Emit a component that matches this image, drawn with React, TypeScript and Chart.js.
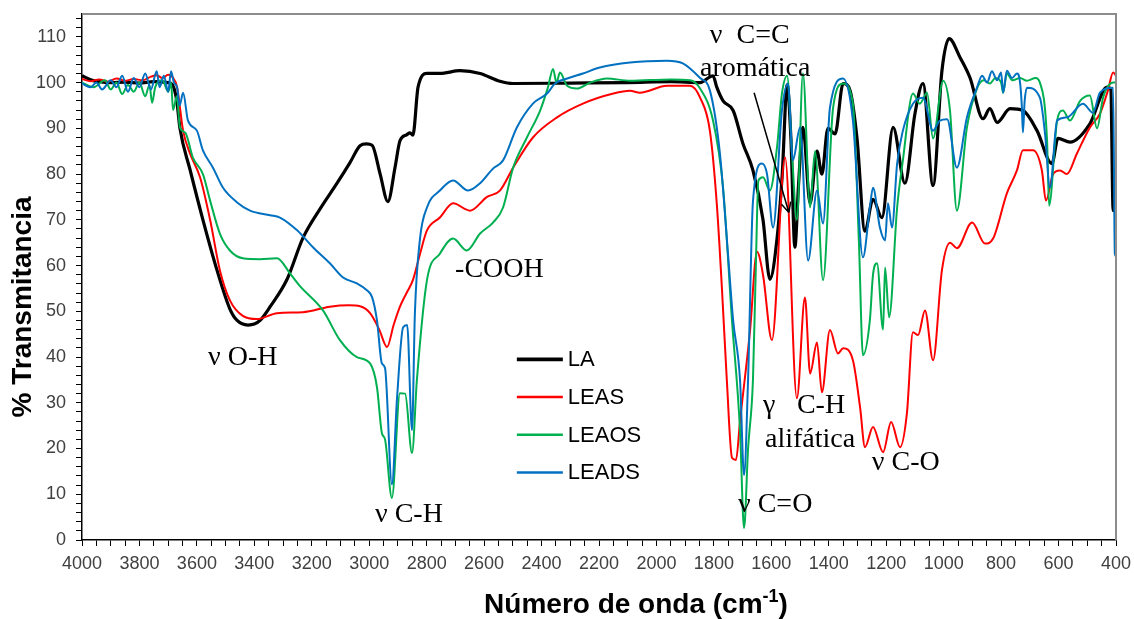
import React, { useEffect, useRef } from 'react';
import { Chart, registerables } from 'chart.js';

Chart.register(...registerables);

// ---------- data (wavenumber cm-1, % transmittance) ----------
const LA: [number, number][] = [
  [4000, 101.5], [3970, 100.6], [3940, 100.2], [3900, 100], [3850, 100.1], [3800, 99.9], [3750, 100.2], [3700, 100],
  [3685, 99.5], [3670, 96], [3659, 90], [3624, 81], [3579, 70], [3530, 59], [3485, 50.5], [3460, 48], [3422, 47],
  [3400, 47.2], [3380, 48], [3345, 51], [3286, 57], [3231, 66], [3170, 72.5], [3112, 78], [3067, 82.5], [3032, 86.2],
  [3010, 86.6], [2990, 86.3], [2962, 80], [2935, 74], [2910, 81.5], [2893, 87.3], [2870, 88.6], [2858, 89], [2848, 88.5],
  [2830, 99], [2799, 102], [2754, 102], [2684, 102.6], [2614, 102], [2545, 100.3], [2499, 99.8], [2300, 99.9],
  [2100, 100], [1950, 100.2], [1848, 100], [1815, 101.2], [1803, 101.5], [1790, 99], [1768, 96], [1733, 93.9],
  [1699, 86.7], [1664, 80.8], [1629, 70], [1605, 57], [1580, 66], [1562, 80], [1545, 99.5], [1532, 88], [1518, 64],
  [1505, 78], [1490, 90.2], [1465, 73.6], [1441, 85], [1424, 80], [1403, 90], [1378, 88.8], [1350, 99.8], [1326, 98.3],
  [1302, 88], [1274, 67.5], [1246, 74.5], [1215, 70.5], [1176, 90.2], [1135, 78], [1100, 93.2], [1072, 99.8],
  [1037, 77.5], [1006, 102.6], [981, 109.6], [943, 105.5], [908, 101], [863, 92.1], [839, 94.3], [814, 91.3],
  [769, 94.3], [724, 93.9], [675, 89.5], [623, 82.3], [602, 87.8], [560, 87], [491, 91], [431, 99], [418, 98.5],
  [410, 72], [400, 72],
];

const LEAS: [number, number][] = [
  [4000, 100.8], [3970, 100.3], [3940, 100.7], [3910, 100.2], [3880, 100.9], [3850, 100.4], [3820, 100.8], [3790, 100.5],
  [3760, 101.3], [3740, 101.6], [3720, 101], [3700, 101.7], [3685, 101.2], [3669, 99], [3648, 89.5], [3624, 84.5],
  [3589, 79.3], [3554, 70], [3520, 59], [3485, 52.4], [3440, 49], [3391, 48.3], [3321, 49.6], [3231, 49.8], [3137, 51],
  [3070, 51.3], [3032, 51.1], [2997, 49.6], [2965, 46], [2938, 42.2], [2915, 47], [2893, 51], [2870, 54], [2848, 56.8],
  [2823, 62.6], [2799, 67.7], [2754, 70.5], [2708, 73.6], [2649, 72], [2590, 75], [2545, 76.4], [2499, 81.4],
  [2430, 88], [2346, 92.4], [2256, 95.4], [2150, 97.6], [2092, 98.2], [2058, 97.8], [1963, 99.3], [1883, 99.3],
  [1848, 96.7], [1814, 89.5], [1790, 73.6], [1772, 55], [1755, 35], [1737, 18], [1723, 17.5], [1709, 26], [1674, 45.9],
  [1650, 63], [1629, 58], [1598, 43.7], [1552, 83.6], [1511, 31], [1483, 53], [1465, 36.4], [1441, 43.2], [1424, 32.3],
  [1396, 45.9], [1368, 40.8], [1350, 41.9], [1316, 39.3], [1291, 29], [1274, 20.3], [1246, 24.7], [1211, 19.2],
  [1183, 25.8], [1152, 20.3], [1128, 27.7], [1107, 45.4], [1089, 44.8], [1065, 50.2], [1037, 39.3], [1006, 59],
  [978, 65], [954, 63.8], [901, 69.4], [856, 64.8], [828, 65.9], [780, 75.8], [745, 80.8], [724, 85.2], [689, 85.2],
  [658, 80.8], [644, 74.2], [619, 80], [595, 80.8], [571, 80], [536, 84.5], [491, 90.2], [456, 93.2], [428, 98.3],
  [410, 102.2], [400, 101.5],
];

const LEAOS: [number, number][] = [
  [4000, 100], [3960, 99], [3920, 100.5], [3900, 98.5], [3880, 100], [3860, 97.5], [3840, 99.5], [3820, 98], [3800, 100],
  [3780, 97], [3765, 99.5], [3756, 95.6], [3745, 99], [3720, 100.5], [3700, 98], [3690, 100], [3683, 94], [3670, 97],
  [3659, 90.2], [3640, 89], [3614, 83.6], [3579, 80], [3554, 74.2], [3520, 67], [3485, 63.3], [3440, 61.6], [3380, 61.4],
  [3321, 61.6], [3276, 58.3], [3241, 55.5], [3161, 50.2], [3102, 43.7], [3043, 40], [2997, 38.6], [2973, 33.4],
  [2956, 23.4], [2945, 22], [2921, 9.2], [2893, 32.1], [2875, 32], [2851, 19], [2834, 35], [2799, 56.8], [2754, 62.6],
  [2708, 65.9], [2660, 63.3], [2614, 67], [2569, 69.4], [2534, 72.7], [2499, 81.4], [2451, 88], [2405, 93.9],
  [2378, 98.9], [2360, 103], [2348, 100], [2336, 102.2], [2311, 99.3], [2277, 98.7], [2231, 100], [2172, 100.9],
  [2092, 100.4], [1950, 100.7], [1883, 100.5], [1848, 98.7], [1803, 91.7], [1768, 77], [1737, 48], [1709, 24],
  [1695, 2.6], [1681, 20], [1664, 35], [1655, 57], [1645, 78.6], [1629, 79.3], [1605, 76.4], [1580, 86], [1563, 97.6],
  [1545, 101.5], [1528, 84.5], [1511, 70], [1490, 102], [1465, 72.7], [1448, 85], [1420, 56.8], [1385, 94.5],
  [1350, 99.8], [1316, 95.4], [1295, 65], [1281, 40.4], [1257, 48], [1246, 58], [1232, 60.5], [1211, 46], [1204, 59.6],
  [1190, 48.7], [1162, 72.7], [1142, 83], [1107, 97.6], [1083, 95.4], [1058, 97.8], [1037, 87.8], [1002, 100.4],
  [978, 93.9], [954, 72], [919, 90.2], [884, 98.7], [860, 100.5], [839, 99.8], [820, 101], [800, 100], [793, 97.8],
  [780, 102], [760, 100.5], [734, 101], [710, 100.4], [680, 101], [665, 100], [640, 87.3], [633, 73.1], [605, 91.7],
  [585, 93.9], [560, 91.7], [525, 96], [491, 97.2], [466, 90], [445, 96.7], [410, 100], [400, 100],
];

const LEADS: [number, number][] = [
  [4000, 99.8], [3970, 99], [3950, 100], [3930, 98.5], [3900, 100.5], [3880, 99], [3860, 101.5], [3840, 98], [3820, 101],
  [3800, 99], [3780, 102], [3760, 98.5], [3740, 102.5], [3730, 99], [3715, 101.5], [3700, 98], [3690, 102.5],
  [3680, 100], [3669, 99], [3660, 95], [3648, 97.8], [3631, 91.7], [3600, 89.5], [3579, 85.2], [3544, 81.4],
  [3509, 77], [3460, 73.8], [3415, 72], [3345, 71], [3311, 70.5], [3251, 67.7], [3196, 64], [3137, 60.5], [3091, 57.4],
  [3043, 56.1], [3008, 54.6], [2990, 53.1], [2973, 48], [2956, 38.6], [2945, 37.6], [2921, 12.2], [2903, 31.2],
  [2882, 46.5], [2868, 47], [2851, 24], [2841, 49.6], [2823, 66], [2799, 72.7], [2754, 76.4], [2708, 78.6],
  [2656, 76.4], [2614, 78], [2569, 81.2], [2534, 83], [2486, 90.2], [2430, 95.4], [2381, 97.6], [2353, 99.8],
  [2311, 100.9], [2256, 102], [2197, 103.3], [2092, 104.4], [1963, 104.8], [1908, 104.2], [1848, 101], [1814, 98.3],
  [1779, 84.5], [1751, 62.6], [1733, 48], [1709, 35], [1695, 14.2], [1681, 35], [1664, 74], [1633, 82.3], [1615, 80],
  [1594, 68.3], [1563, 93.9], [1542, 99.8], [1525, 83], [1500, 90.2], [1472, 61.1], [1441, 76.4], [1420, 69.2],
  [1396, 94.5], [1350, 100.9], [1316, 91.7], [1281, 61.8], [1257, 72.7], [1246, 77], [1222, 68.3], [1204, 65.5],
  [1194, 73.6], [1180, 68.3], [1162, 82.3], [1142, 89.5], [1107, 95.4], [1072, 96.7], [1037, 89.5], [1013, 91.7],
  [988, 92], [954, 81.4], [919, 92.4], [884, 98.9], [866, 101.5], [849, 100], [832, 102.5], [814, 100.5], [800, 102.2],
  [793, 97.8], [780, 102.6], [762, 101], [745, 102], [735, 100.5], [728, 95], [724, 89.1], [718, 96], [710, 98.9],
  [665, 96.7], [647, 88.8], [630, 77], [605, 91.7], [571, 92.4], [515, 95.4], [480, 93.4], [456, 97.8], [410, 98.9],
  [404, 62.6], [400, 62],
];

const SERIES_NAMES = ['LA', 'LEAS', 'LEAOS', 'LEADS'];
const SERIES_DATA = [LA, LEAS, LEAOS, LEADS];
const SERIES_COLORS = ['#000000', '#FF0000', '#00B050', '#0070C0'];
const SERIES_WIDTHS = [3.2, 2, 2, 2];

const X_MIN = 400;
const X_MAX = 4000;
const X_MINOR_STEP = 50;
const X_LABEL_STEP = 200;
const Y_MIN = 0;
const Y_MAX = 115;
const Y_MINOR_STEP = 2;
const Y_LABEL_STEP = 10;

const X_TITLE_MAIN = 'Número de onda (cm';
const X_TITLE_SUP = '-1';
const X_TITLE_END = ')';
const Y_TITLE = '% Transmitancia';

// band annotations anchored at (wavenumber, %T) – text left/baseline
const ANNOTATIONS = [
  { text: 'ν O-H', wn: 3561, t: 38.2 },
  { text: 'ν C-H', wn: 2980, t: 3.9 },
  { text: '-COOH', wn: 2701, t: 57.4 },
  { text: 'ν  C=C', wn: 1814, t: 108.7 },
  { text: 'aromática', wn: 1848, t: 101.5 },
  { text: 'γ', wn: 1629, t: 27.7 },
  { text: 'C-H', wn: 1511, t: 27.7 },
  { text: 'alifática', wn: 1622, t: 20.3 },
  { text: 'ν C=O', wn: 1716, t: 6.1 },
  { text: 'ν C-O', wn: 1250, t: 15.3 },
];
const ARROW_FROM = { wn: 1660, t: 97.8 };
const ARROW_TO = { wn: 1539, t: 71.6 };
const LEGEND_ANCHOR = { wn: 2486, t: 39.5 };

const SANS = '"Liberation Sans", Arial, sans-serif';
const SERIF = '"Liberation Serif", "Times New Roman", serif';

const decorPlugin = {
  id: 'decor',
  afterDraw(chart: any) {
    const { ctx, chartArea: a, scales } = chart;
    const xs = scales.x;
    const ys = scales.y;
    ctx.save();

    // top / right frame
    ctx.strokeStyle = '#8c8c8c';
    ctx.lineWidth = 2;
    ctx.beginPath();
    ctx.moveTo(a.left, a.top);
    ctx.lineTo(a.right, a.top);
    ctx.lineTo(a.right, a.bottom);
    ctx.stroke();

    // annotations
    ctx.fillStyle = '#000';
    ctx.font = '28px ' + SERIF;
    ctx.textAlign = 'left';
    ctx.textBaseline = 'alphabetic';
    for (const an of ANNOTATIONS) {
      ctx.fillText(an.text, xs.getPixelForValue(an.wn), ys.getPixelForValue(an.t));
    }

    // arrow
    const x1 = xs.getPixelForValue(ARROW_FROM.wn);
    const y1 = ys.getPixelForValue(ARROW_FROM.t);
    const x2 = xs.getPixelForValue(ARROW_TO.wn);
    const y2 = ys.getPixelForValue(ARROW_TO.t);
    ctx.strokeStyle = '#000';
    ctx.lineWidth = 1.5;
    ctx.beginPath();
    ctx.moveTo(x1, y1);
    ctx.lineTo(x2, y2);
    const ang = Math.atan2(y2 - y1, x2 - x1);
    const hl = 11;
    ctx.moveTo(x2, y2);
    ctx.lineTo(x2 - hl * Math.cos(ang - 0.45), y2 - hl * Math.sin(ang - 0.45));
    ctx.moveTo(x2, y2);
    ctx.lineTo(x2 - hl * Math.cos(ang + 0.45), y2 - hl * Math.sin(ang + 0.45));
    ctx.stroke();

    // legend
    const lx = xs.getPixelForValue(LEGEND_ANCHOR.wn);
    const ly = ys.getPixelForValue(LEGEND_ANCHOR.t);
    ctx.font = '22px ' + SANS;
    ctx.textBaseline = 'middle';
    SERIES_NAMES.forEach((name, i) => {
      const yy = ly + i * 37.7;
      ctx.strokeStyle = SERIES_COLORS[i];
      ctx.lineWidth = SERIES_WIDTHS[i] + 0.5;
      ctx.beginPath();
      ctx.moveTo(lx, yy);
      ctx.lineTo(lx + 46, yy);
      ctx.stroke();
      ctx.fillStyle = '#000';
      ctx.fillText(name, lx + 51, yy + 1);
    });

    // axis titles
    ctx.fillStyle = '#000';
    ctx.textBaseline = 'alphabetic';
    ctx.font = 'bold 28px ' + SANS;
    const w1 = ctx.measureText(X_TITLE_MAIN).width;
    const w3 = ctx.measureText(X_TITLE_END).width;
    ctx.font = 'bold 18px ' + SANS;
    const w2 = ctx.measureText(X_TITLE_SUP).width;
    const total = w1 + w2 + w3;
    const cx = 636;
    let tx = cx - total / 2;
    const by = 613;
    ctx.font = 'bold 28px ' + SANS;
    ctx.fillText(X_TITLE_MAIN, tx, by);
    tx += w1;
    ctx.font = 'bold 18px ' + SANS;
    ctx.fillText(X_TITLE_SUP, tx, by - 11);
    tx += w2;
    ctx.font = 'bold 28px ' + SANS;
    ctx.fillText(X_TITLE_END, tx, by);

    ctx.translate(23, 307);
    ctx.rotate(-Math.PI / 2);
    ctx.textAlign = 'center';
    ctx.textBaseline = 'middle';
    ctx.fillText(Y_TITLE, 0, 0);

    ctx.restore();
  },
};

export default function App() {
  const ref = useRef<HTMLCanvasElement | null>(null);

  useEffect(() => {
    if (!ref.current) return;
    const chart = new Chart(ref.current, {
      type: 'line',
      data: {
        datasets: SERIES_NAMES.map((name, i) => ({
          label: name,
          data: SERIES_DATA[i].map(([x, y]) => ({ x, y })),
          borderColor: SERIES_COLORS[i],
          backgroundColor: SERIES_COLORS[i],
          borderWidth: SERIES_WIDTHS[i],
          pointRadius: 0,
          cubicInterpolationMode: 'monotone' as const,
          fill: false,
          order: SERIES_NAMES.length - i,
        })),
      },
      options: {
        responsive: false,
        animation: false,
        layout: { padding: { top: 14, right: 18, left: 0, bottom: 0 } },
        plugins: {
          legend: { display: false },
          tooltip: { enabled: false },
        },
        scales: {
          x: {
            type: 'linear',
            reverse: true,
            min: X_MIN,
            max: X_MAX,
            afterFit: (s: any) => {
              s.height = 79;
              s.paddingLeft = 0;
              s.paddingRight = 0;
            },
            ticks: {
              stepSize: X_MINOR_STEP,
              autoSkip: false,
              maxRotation: 0,
              minRotation: 0,
              padding: 7,
              color: '#404040',
              font: { family: SANS, size: 18 },
              callback: (v: any) => (Number(v) % X_LABEL_STEP === 0 ? String(v) : ''),
            },
            grid: { drawOnChartArea: false, drawTicks: true, tickLength: 6, color: '#000', lineWidth: 1 },
            border: { display: true, color: '#000', width: 1.5 },
          },
          y: {
            type: 'linear',
            min: Y_MIN,
            max: Y_MAX,
            afterFit: (s: any) => {
              s.width = 82;
              s.paddingTop = 0;
              s.paddingBottom = 0;
            },
            ticks: {
              stepSize: Y_MINOR_STEP,
              includeBounds: false,
              autoSkip: false,
              padding: 10,
              color: '#404040',
              font: { family: SANS, size: 18 },
              callback: (v: any) => (Number(v) % Y_LABEL_STEP === 0 ? String(v) : ''),
            },
            grid: { drawOnChartArea: false, drawTicks: true, tickLength: 6, color: '#000', lineWidth: 1 },
            border: { display: true, color: '#000', width: 1.5 },
          },
        },
      },
      plugins: [decorPlugin],
    });
    return () => chart.destroy();
  }, []);

  return (
    <div style={{ position: 'fixed', left: 0, top: 0, width: 1134, height: 619, background: '#fff' }}>
      <canvas ref={ref} width={1134} height={619} />
    </div>
  );
}
